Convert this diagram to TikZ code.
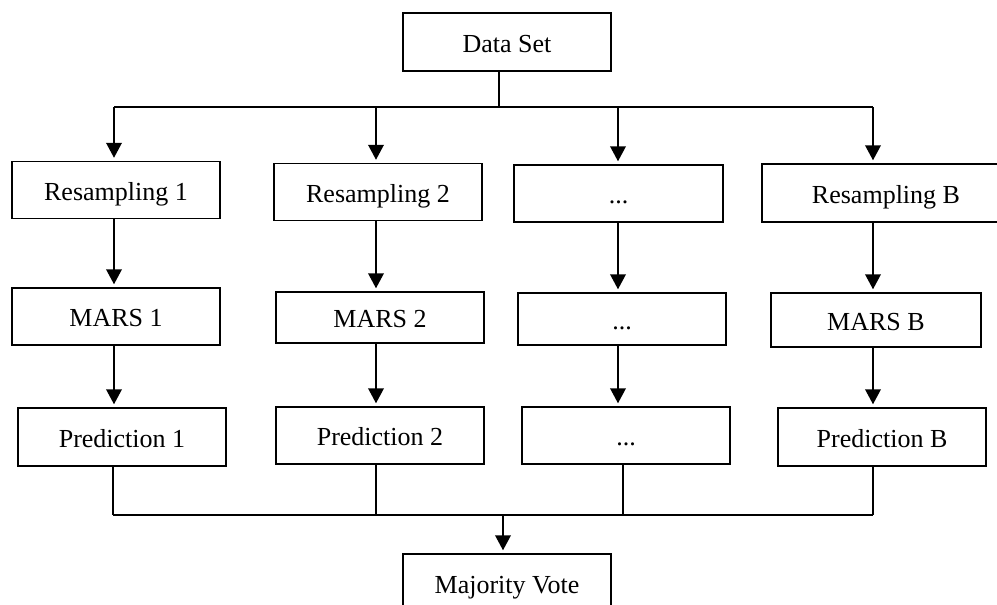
\documentclass[tikz,border=0pt]{standalone}
\usepackage{fontspec}
\setmainfont{Liberation Serif}
\usetikzlibrary{arrows.meta}
\begin{document}
\begin{tikzpicture}[x=1pt,y=-1pt,
  box/.style={draw,line width=1.4pt,inner sep=0pt,minimum width=208pt,minimum height=57pt,
    text height=24pt,text depth=4pt,font=\fontsize{26}{30}\selectfont},
  arr/.style={line width=2pt,-{Triangle[length=15pt,width=15.5pt]},shorten >=3pt},
  bus/.style={line width=1.3pt},
  thinbus/.style={line width=1.1pt}]
\useasboundingbox (0,0) rectangle (997,605);
\clip (0,0) rectangle (997,605);

% column positions of the vertical connectors
\coordinate (c1) at (114,0);
\coordinate (c2) at (376,0);
\coordinate (c3) at (618,0);
\coordinate (c4) at (873,0);
\coordinate (stem) at (499,0);
\coordinate (vote) at (503,0);

% boxes
\node[box,minimum height=58pt] (data) at (507,42) {Data Set};

\node[box] (r1) at (116,190) {Resampling 1};
\node[box] (m1) at (116,316.5) {MARS 1};
\node[box,minimum height=58pt] (p1) at (122,437) {Prediction 1};

\node[box] (r2) at (378,192) {Resampling 2};
\node[box,minimum height=51pt] (m2) at (380,317.5) {MARS 2};
\node[box] (p2) at (380,435.5) {Prediction 2};

\node[box,minimum width=209pt] (r3) at (618.5,193.5) {...};
\node[box,minimum height=52pt] (m3) at (622,319) {...};
\node[box] (p3) at (626,435.5) {...};

\node[box,minimum width=248pt,minimum height=58pt] (rB) at (886,193) {Resampling B};
\node[box,minimum width=210pt,minimum height=54pt] (mB) at (876,320) {MARS B};
\node[box,minimum height=58pt] (pB) at (882,437) {Prediction B};

\node[box,minimum height=58pt] (mv) at (507,583) {Majority Vote};

% distribution bus from the data set
\coordinate (top) at (499,107);
\coordinate (topL) at (114,107);
\coordinate (topR) at (873,107);
\draw[bus] (data.south -| stem) -- (top);
\draw[bus] (topL) -- (topR);
\draw[arr] (topL) -- (r1.north -| c1);
\draw[arr] (top -| c2) -- (r2.north -| c2);
\draw[arr] (top -| c3) -- (r3.north -| c3);
\draw[arr] (topR) -- (rB.north -| c4);

% resampling -> model -> prediction
\draw[arr] (r1.south -| c1) -- (m1.north -| c1);
\draw[arr] (m1.south -| c1) -- (p1.north -| c1);
\draw[arr] (r2.south -| c2) -- (m2.north -| c2);
\draw[arr] (m2.south -| c2) -- (p2.north -| c2);
\draw[arr] (r3.south -| c3) -- (m3.north -| c3);
\draw[arr] (m3.south -| c3) -- (p3.north -| c3);
\draw[arr] (rB.south -| c4) -- (mB.north -| c4);
\draw[arr] (mB.south -| c4) -- (pB.north -| c4);

% collecting bus into the majority vote
\coordinate (botL) at (113,515);
\coordinate (botR) at (873,515);
\coordinate (c3b) at (623,0);
\draw[thinbus] (p1.south -| botL) -- (botL);
\draw[thinbus] (p2.south -| c2) -- (botL -| c2);
\draw[thinbus] (p3.south -| c3b) -- (botL -| c3b);
\draw[thinbus] (pB.south -| botR) -- (botR);
\draw[thinbus] (botL) -- (botR);
\draw[arr] (botL -| vote) -- (mv.north -| vote);
\end{tikzpicture}
\end{document}
